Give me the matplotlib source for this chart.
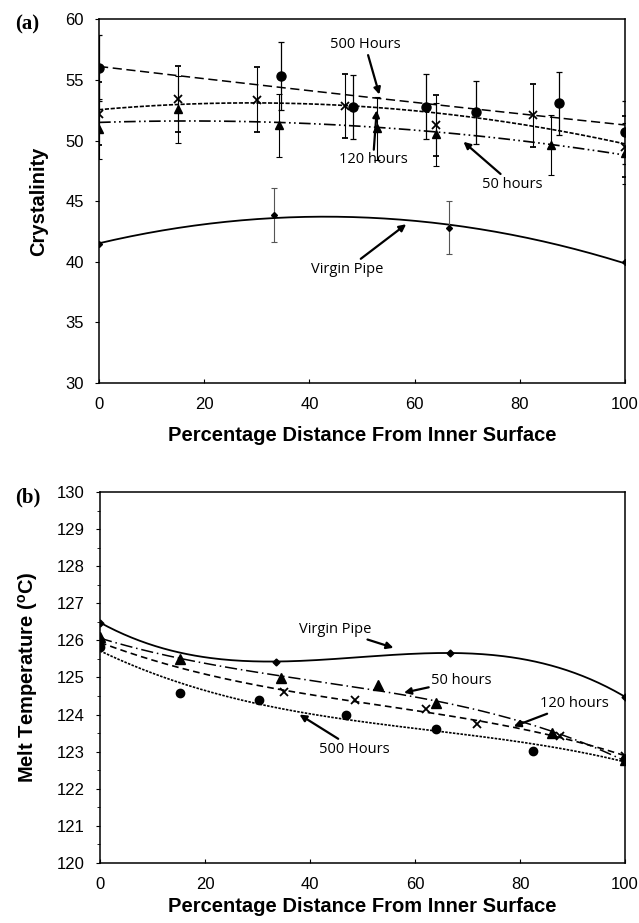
import numpy as np
import matplotlib.pyplot as plt
from matplotlib.ticker import MultipleLocator

plt.rcParams['font.family'] = ['Liberation Sans', 'DejaVu Sans']

# ---- (a) crystallinity ----
x500_a = [0, 34.6, 48.3, 62.2, 71.6, 87.5, 100]
y500_a = [56.0, 55.35, 52.75, 52.8, 52.35, 53.07, 50.7]
e500_a = [2.7, 2.8, 2.65, 2.7, 2.6, 2.6, 2.6]

x120_a = [0, 15.1, 30.1, 46.8, 64.1, 82.6, 100]
y120_a = [52.2, 53.45, 53.38, 52.85, 51.25, 52.1, 49.5]
e120_a = [2.6, 2.7, 2.67, 2.65, 2.5, 2.6, 2.5]

x50_a = [0, 15.1, 34.2, 52.9, 64.1, 86.0, 100]
y50_a = [50.95, 52.58, 51.28, 51.0, 50.52, 49.63, 48.95]
e50_a = [2.5, 2.75, 2.6, 2.6, 2.6, 2.5, 2.5]

xv_a = [0, 33.2, 66.5, 100]
yv_a = [41.45, 43.85, 42.83, 39.95]
ev_a = [0, 2.2, 2.2, 0]

# ---- (b) melt temperature ----
x500_b = [0, 15.2, 30.3, 46.9, 64.0, 82.5, 100]
y500_b = [125.83, 124.59, 124.38, 123.99, 123.6, 123.03, 122.8]

x120_b = [0, 35.1, 48.6, 62.1, 71.9, 87.6, 100]
y120_b = [125.95, 124.62, 124.38, 124.14, 123.74, 123.41, 122.89]

x50_b = [0, 15.2, 34.5, 53.0, 64.0, 86.0, 100]
y50_b = [126.08, 125.49, 124.98, 124.8, 124.3, 123.5, 122.78]

xv_b = [0, 33.5, 66.6, 100]
yv_b = [126.48, 125.43, 125.66, 124.48]

xt = [0, 20, 40, 60, 80, 100]
xlab = 'Percentage Distance From Inner Surface'


def trend(ax, x, y, deg, **kw):
    p = np.polyfit(x, y, deg)
    xs = np.linspace(0, 100, 200)
    ax.plot(xs, np.polyval(p, xs), color='black', **kw)


def note(ax, text, xy, xytext, ha='center'):
    ax.annotate(text, xy=xy, xytext=xytext, ha=ha, va='center',
                fontsize=10.5, family=['Open Sans', 'DejaVu Sans'],
                arrowprops=dict(arrowstyle='-|>', color='black', lw=1.6,
                                mutation_scale=10, shrinkA=0, shrinkB=0))


fig = plt.figure(figsize=(6.39, 9.23), dpi=100)

# panel (a)
ax1 = fig.add_axes([0.155, 0.585, 0.823, 0.394])
trend(ax1, x500_a, y500_a, 2, lw=1.1, dashes=(6, 3))
trend(ax1, x120_a, y120_a, 2, lw=1.2, dashes=(2.5, 1))
trend(ax1, x50_a, y50_a, 2, lw=1.2, dashes=(7, 2, 1, 2, 1, 2))
trend(ax1, xv_a, yv_a, 2, lw=1.3)
ax1.errorbar(x500_a, y500_a, yerr=e500_a, fmt='o', color='black', ms=6.5,
             elinewidth=0.9, capsize=2.5, capthick=0.9)
ax1.errorbar(x120_a, y120_a, yerr=e120_a, fmt='x', color='black', ms=5.5,
             mew=1.3, elinewidth=0.8, capsize=2.5, capthick=0.8)
ax1.errorbar(x50_a, y50_a, yerr=e50_a, fmt='^', color='black', ms=5.5,
             elinewidth=0.8, capsize=2.5, capthick=0.8)
ax1.errorbar(xv_a, yv_a, yerr=ev_a, fmt='D', color='black', ms=3,
             elinewidth=0.8, capsize=2.5, capthick=0.8, ecolor='#555555')
ax1.set_xlim(0, 100)
ax1.set_ylim(30, 60)
ax1.set_xticks(xt)
ax1.set_yticks(np.arange(30, 61, 5))
ax1.set_ylabel('Crystalinity', fontsize=14.5, fontweight='bold', labelpad=12)
ax1.set_xlabel(xlab, fontsize=14.5, fontweight='bold', labelpad=10)
note(ax1, '500 Hours', (53.3, 53.8), (50.6, 57.9))
note(ax1, '120 hours', (52.8, 52.5), (52.1, 48.4))
note(ax1, '50 hours', (69.3, 49.9), (78.6, 46.4))
note(ax1, 'Virgin Pipe', (58.4, 43.1), (47.2, 39.4))
fig.text(0.042, 0.973, '(a)', fontsize=15, fontweight='bold',
         family='Liberation Serif', ha='center', va='center')

# panel (b)
ax2 = fig.add_axes([0.1565, 0.065, 0.8216, 0.402])
trend(ax2, x500_b, y500_b, 3, lw=1.2, dashes=(1.5, 0.8))
trend(ax2, x120_b, y120_b, 3, lw=1.2, dashes=(4, 2.5))
trend(ax2, x50_b, y50_b, 3, lw=1.1, dashes=(8, 2.5, 1, 2.5))
trend(ax2, xv_b, yv_b, 3, lw=1.3)
ax2.plot(x500_b, y500_b, 'o', color='black', ms=6)
ax2.plot(x120_b, y120_b, 'x', color='black', ms=6, mew=1.3)
ax2.plot(x50_b, y50_b, '^', color='black', ms=6.5)
ax2.plot(xv_b, yv_b, 'D', color='black', ms=3.5)
ax2.set_xlim(0, 100)
ax2.set_ylim(120, 130)
ax2.set_xticks(xt)
ax2.set_yticks(np.arange(120, 131, 1))
ax2.yaxis.set_minor_locator(MultipleLocator(0.5))
ax2.set_ylabel('Melt Temperature ($\\mathregular{^o}$C)', fontsize=14.5,
               fontweight='bold', labelpad=12)
ax2.set_xlabel(xlab, fontsize=14.5, fontweight='bold', labelpad=4)
note(ax2, 'Virgin Pipe', (55.9, 125.8), (44.8, 126.3))
note(ax2, '50 hours', (57.9, 124.59), (68.9, 124.93))
note(ax2, '120 hours', (78.8, 123.68), (90.3, 124.3))
note(ax2, '500 Hours', (38.0, 124.0), (48.5, 123.07))
fig.text(0.044, 0.461, '(b)', fontsize=15, fontweight='bold',
         family='Liberation Serif', ha='center', va='center')

for ax in (ax1, ax2):
    for s in ax.spines.values():
        s.set_linewidth(1.1)
    ax.tick_params(axis='y', which='major', labelsize=12, length=3,
                   width=0.8, direction='out', pad=8)
    ax.tick_params(axis='y', which='minor', length=2, width=0.6,
                   direction='out')
    ax.tick_params(axis='x', labelsize=12, length=3, width=0.8,
                   direction='in', pad=10)

fig.savefig('out.png', dpi=100)
